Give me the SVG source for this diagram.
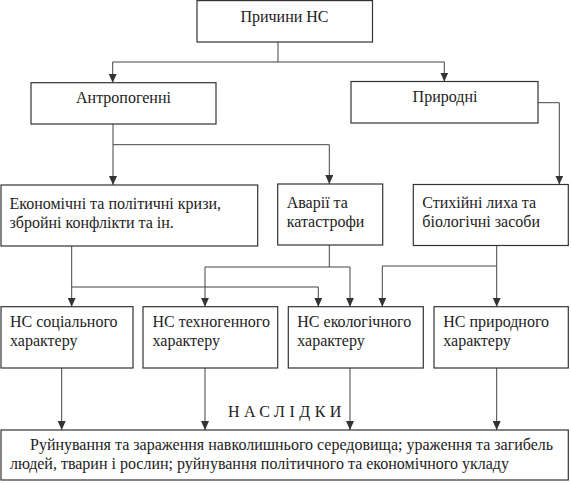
<svg xmlns="http://www.w3.org/2000/svg" width="571" height="483" viewBox="0 0 571 483">
<style>
.box{fill:#fff;stroke:#333;stroke-width:1.2}
text{font-family:"Liberation Serif","DejaVu Serif","Times New Roman",serif;font-size:16px;fill:#222}
.c{fill:none;stroke:#444;stroke-width:1}
</style>
<defs>
<marker id="ar" markerUnits="userSpaceOnUse" markerWidth="8" markerHeight="9" viewBox="0 0 8 9" refX="4" refY="9" orient="0">
<path d="M0,0 L8,0 L4,9 Z" fill="#333"/>
</marker>
</defs>
<rect width="571" height="483" fill="#fff"/>
<g id="connectors" class="c">
<path d="M278,42 V62 M112.7,62 H444.3"/>
<path d="M112.7,62 V82.7" marker-end="url(#ar)"/>
<path d="M444.3,62 V81.5" marker-end="url(#ar)"/>
<path d="M538,102.7 H559.3 V184.5" marker-end="url(#ar)"/>
<path d="M113,124 V185" marker-end="url(#ar)"/>
<path d="M113,144.7 H329.3 V184" marker-end="url(#ar)"/>
<path d="M71.7,246 V306.7" marker-end="url(#ar)"/>
<path d="M71.7,287 H318.3 V306.7" marker-end="url(#ar)"/>
<path d="M329.3,245 V267 M205,267 H350"/>
<path d="M205,267 V306.7" marker-end="url(#ar)"/>
<path d="M350,267 V306.7" marker-end="url(#ar)"/>
<path d="M496.7,245 V266 M382.3,266 H496.7"/>
<path d="M382.3,266 V306.7" marker-end="url(#ar)"/>
<path d="M496.7,266 V306.7" marker-end="url(#ar)"/>
<path d="M61.7,368 V430" marker-end="url(#ar)"/>
<path d="M205,368 V430" marker-end="url(#ar)"/>
<path d="M350,368 V430" marker-end="url(#ar)"/>
<path d="M496.7,368 V430" marker-end="url(#ar)"/>
</g>
<g id="n-causes"><rect class="box" x="197" y="0.6" width="175.5" height="41.4"/><text x="284.5" y="22" text-anchor="middle">Причини НС</text></g>
<g id="n-anthro"><rect class="box" x="31" y="82.7" width="185" height="41.3"/><text x="123.5" y="103" text-anchor="middle">Антропогенні</text></g>
<g id="n-natural"><rect class="box" x="351" y="81.5" width="187" height="41.5"/><text x="445" y="102" text-anchor="middle">Природні</text></g>
<g id="n-econ"><rect class="box" x="1" y="185" width="256.7" height="61"/><text x="9.5" y="208.5">Економічні та політичні кризи,</text><text x="9.5" y="227.5">збройні конфлікти та ін.</text></g>
<g id="n-accidents"><rect class="box" x="277.7" y="184" width="105" height="61"/><text x="286.7" y="207.5">Аварії та</text><text x="286.7" y="226.5">катастрофи</text></g>
<g id="n-disasters"><rect class="box" x="413.3" y="184.5" width="155" height="61"/><text x="422.3" y="207.5">Стихійні лиха та</text><text x="422.3" y="226.5">біологічні засоби</text></g>
<g id="n-social"><rect class="box" x="1" y="306.7" width="132" height="61.3"/><text x="10" y="327">НС соціального</text><text x="10" y="346">характеру</text></g>
<g id="n-tech"><rect class="box" x="143" y="306.7" width="134.7" height="61.3"/><text x="152.5" y="327">НС техногенного</text><text x="152.5" y="346">характеру</text></g>
<g id="n-eco"><rect class="box" x="288.3" y="306.7" width="135" height="61.3"/><text x="297.3" y="327">НС екологічного</text><text x="297.3" y="346">характеру</text></g>
<g id="n-nat"><rect class="box" x="434" y="306.7" width="134.3" height="61.3"/><text x="443.3" y="327">НС природного</text><text x="443.3" y="346">характеру</text></g>
<text x="228" y="417" letter-spacing="4.5">НАСЛІДКИ</text>
<g id="n-consequences"><rect class="box" x="1" y="430" width="567.3" height="50"/><text x="30" y="450">Руйнування та зараження навколишнього середовища; ураження та загибель</text><text x="10" y="469">людей, тварин і рослин; руйнування політичного та економічного укладу</text></g>
</svg>
